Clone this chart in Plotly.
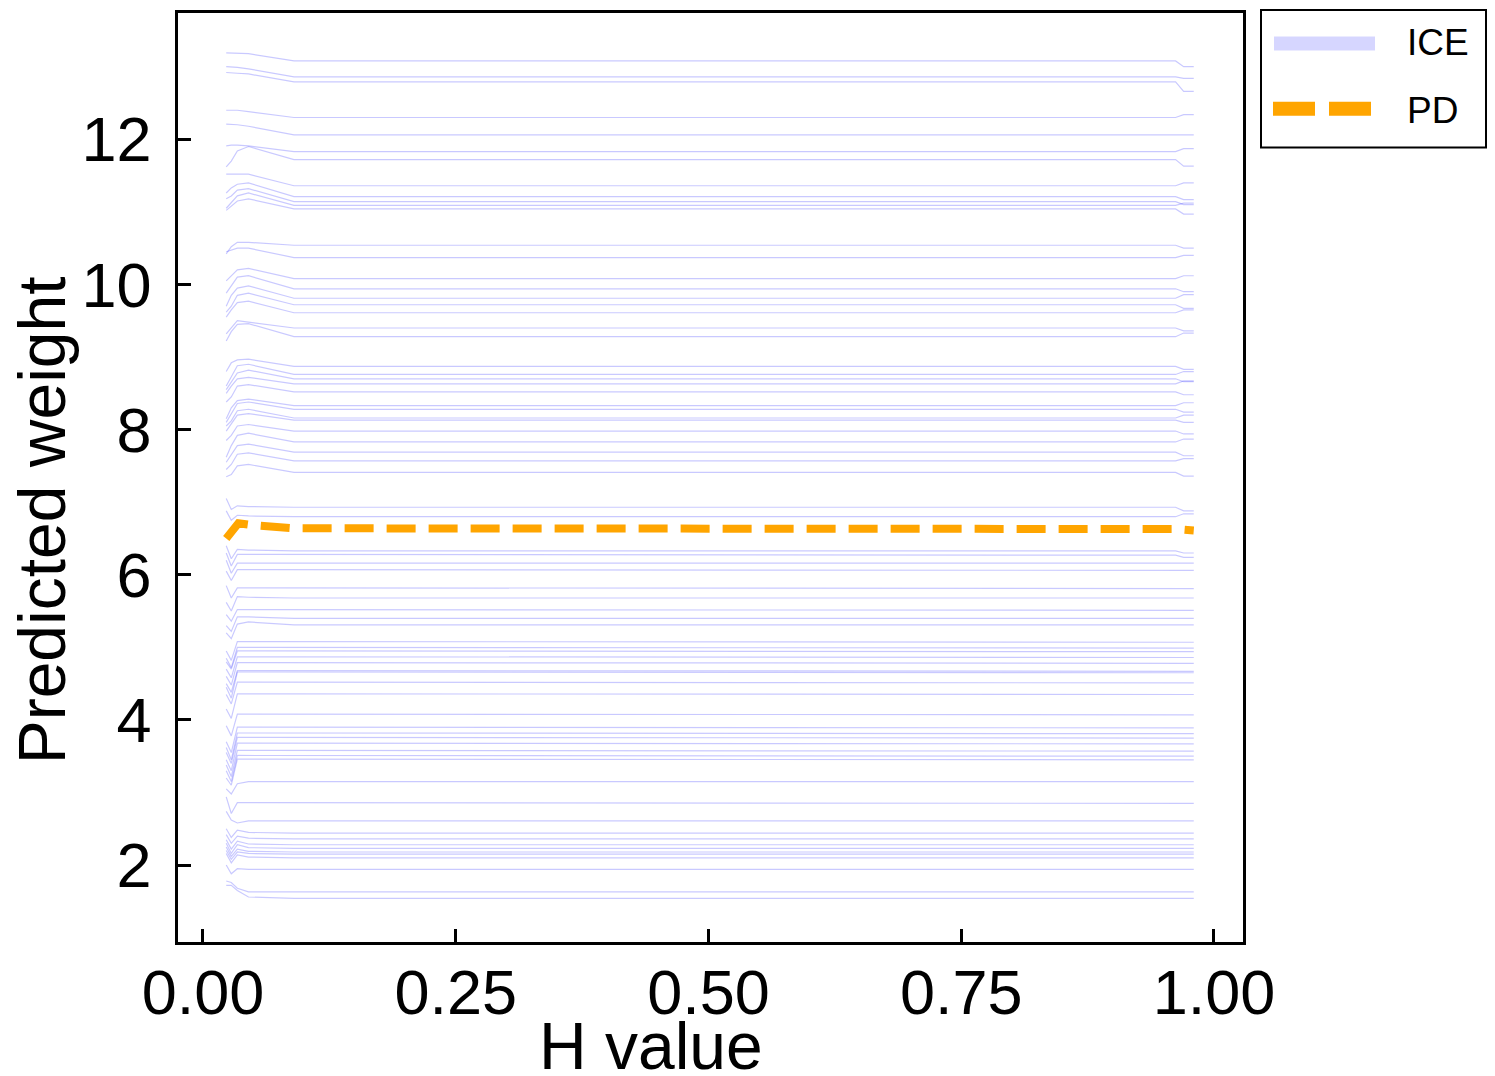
import plotly.graph_objects as go

# ---------------- data ----------------
x_ticks = [0.0, 0.25, 0.5, 0.75, 1.0]
x_tick_text = ["0.00", "0.25", "0.50", "0.75", "1.00"]
y_ticks = [2, 4, 6, 8, 10, 12]
y_tick_text = ["2", "4", "6", "8", "10", "12"]

# H-value grid points where each ICE curve is sampled
ice_x = [0.023, 0.028, 0.034, 0.045, 0.09, 0.962, 0.970, 0.980]

ice_start = [13.19, 13.00, 12.92, 12.40, 12.21, 11.91, 11.62,
             11.52, 11.26, 11.18, 11.05, 11.02,
             10.42, 10.45, 10.05, 9.88, 9.70, 9.62, 9.55, 9.32, 9.22,
             8.80, 8.60, 8.55, 8.50, 8.38, 8.15, 8.10, 8.05, 7.98, 7.85, 7.62, 7.55, 7.45, 7.35,
             7.05, 6.88, 6.40, 6.30, 6.20, 6.05, 5.85, 5.62, 5.45, 5.30, 5.20,
             4.95, 4.85, 4.80, 4.70, 4.60, 4.50, 4.45, 4.35, 4.15, 3.92, 3.70, 3.62, 3.55, 3.45, 3.38, 3.30, 3.20,
             3.05, 2.94, 2.74, 2.50, 2.42, 2.35, 2.30, 2.25, 2.20, 2.16, 2.00, 1.78, 1.72]
ice_dip = [13.19, 13.00, 12.92, 12.40, 12.21, 11.92, 11.70,
           11.52, 11.33, 11.22, 11.13, 11.08,
           10.52, 10.47, 10.12, 9.98, 9.85, 9.70, 9.65, 9.40, 9.35,
           8.92, 8.72, 8.66, 8.60, 8.45, 8.30, 8.22, 8.12, 8.08, 7.92, 7.78, 7.66, 7.52, 7.38,
           6.90, 6.75, 6.22, 6.12, 6.02, 5.92, 5.68, 5.50, 5.36, 5.22, 5.12,
           4.82, 4.72, 4.70, 4.58, 4.48, 4.38, 4.30, 4.22, 4.02, 3.78, 3.55, 3.45, 3.40, 3.30, 3.22, 3.15, 3.10,
           2.98, 2.71, 2.62, 2.38, 2.30, 2.22, 2.16, 2.12, 2.08, 2.03, 1.88, 1.76, 1.72]
ice_rise = [13.19, 12.99, 12.91, 12.40, 12.20, 11.92, 11.84,
            11.53, 11.38, 11.30, 11.22, 11.15,
            10.58, 10.50, 10.20, 10.10, 9.95, 9.85, 9.75, 9.50, 9.45,
            8.96, 8.88, 8.78, 8.70, 8.60, 8.40, 8.36, 8.26, 8.20, 8.05, 7.92, 7.78, 7.66, 7.50,
            6.95, 6.82, 6.35, 6.28, 6.16, 6.07, 5.82, 5.70, 5.52, 5.42, 5.32,
            5.08, 5.00, 4.95, 4.87, 4.79, 4.68, 4.66, 4.52, 4.36, 4.08, 3.90, 3.82, 3.76, 3.68, 3.58, 3.51, 3.46,
            3.12, 2.86, 2.58, 2.48, 2.40, 2.33, 2.28, 2.22, 2.18, 2.14, 1.95, 1.68, 1.65]
ice_peak = [13.18, 12.97, 12.90, 12.38, 12.18, 11.91, 11.90,
            11.52, 11.40, 11.32, 11.26, 11.18,
            10.58, 10.50, 10.22, 10.12, 9.98, 9.88, 9.77, 9.48, 9.46,
            8.97, 8.90, 8.82, 8.72, 8.62, 8.42, 8.38, 8.28, 8.22, 8.07, 7.95, 7.80, 7.68, 7.52,
            6.94, 6.81, 6.34, 6.28, 6.16, 6.07, 5.82, 5.69, 5.52, 5.42, 5.35,
            5.08, 5.00, 4.95, 4.87, 4.79, 4.68, 4.66, 4.52, 4.36, 4.08, 3.90, 3.82, 3.76, 3.68, 3.58, 3.51, 3.46,
            3.15, 2.86, 2.61, 2.45, 2.37, 2.29, 2.24, 2.19, 2.16, 2.11, 1.94, 1.63, 1.56]
ice_level = [13.08, 12.86, 12.79, 12.30, 12.06, 11.83, 11.72,
             11.36, 11.21, 11.14, 11.09, 11.04,
             10.54, 10.37, 10.08, 9.94, 9.81, 9.72, 9.61, 9.40, 9.28,
             8.87, 8.76, 8.70, 8.63, 8.52, 8.33, 8.28, 8.16, 8.13, 7.98, 7.83, 7.69, 7.57, 7.41,
             6.93, 6.80, 6.33, 6.27, 6.15, 6.06, 5.81, 5.68, 5.51, 5.40, 5.31,
             5.07, 4.99, 4.94, 4.86, 4.78, 4.67, 4.65, 4.51, 4.35, 4.07, 3.89, 3.81, 3.75, 3.67, 3.57, 3.50, 3.45,
             3.15, 2.85, 2.61, 2.44, 2.36, 2.28, 2.23, 2.18, 2.15, 2.10, 1.94, 1.63, 1.54]
ice_end = [13.00, 12.84, 12.66, 12.34, 12.06, 11.87, 11.63,
           11.40, 11.17, 11.10, 11.12, 10.97,
           10.50, 10.40, 10.12, 9.90, 9.86, 9.67, 9.65, 9.36, 9.33,
           8.83, 8.80, 8.66, 8.67, 8.48, 8.37, 8.24, 8.20, 8.10, 7.94, 7.87, 7.64, 7.60, 7.36,
           6.88, 6.84, 6.30, 6.24, 6.16, 6.06, 5.81, 5.68, 5.51, 5.40, 5.31,
           5.07, 4.99, 4.94, 4.86, 4.78, 4.67, 4.65, 4.51, 4.35, 4.07, 3.89, 3.81, 3.75, 3.67, 3.57, 3.50, 3.45,
           3.15, 2.85, 2.61, 2.44, 2.36, 2.28, 2.23, 2.18, 2.15, 2.10, 1.94, 1.63, 1.54]

pd_x = [0.023, 0.026, 0.030, 0.035, 0.045, 0.09, 0.962, 0.970, 0.980]
pd_y = [6.50, 6.55, 6.63, 6.71, 6.69, 6.64, 6.63, 6.61, 6.61]

legend_labels = ["ICE", "PD"]

# ---------------- figure ----------------
FONT = "Liberation Sans, Arial, Helvetica, sans-serif"
ICE_COLOR = "rgba(0,0,255,0.21)"
PD_COLOR = "#FFA500"

fig = go.Figure()
for s, d, r, p, lv, e in zip(ice_start, ice_dip, ice_rise, ice_peak, ice_level, ice_end):
    fig.add_trace(go.Scatter(
        x=ice_x, y=[s, d, r, p, lv, lv, e, e], mode="lines",
        line=dict(color=ICE_COLOR, width=1.2), showlegend=False, hoverinfo="skip"))

fig.add_trace(go.Scatter(
    x=pd_x, y=pd_y, mode="lines",
    line=dict(color=PD_COLOR, width=8, dash="29px,13px"), showlegend=False))

# page body adds an 8px offset; compensate so the picture lands on target pixels
OFF = 8
W, H = 1495 - OFF, 1076 - OFF
L, R, T, B = 178, 1243, 10, 942   # target plot-area pixels in the final picture


def px(xp):
    return (xp - L) / (R - L)


def py(yp):
    return (B - yp) / (B - T)


axis_common = dict(
    showline=True, linecolor="black", linewidth=2.5, mirror=True,
    ticks="inside", ticklen=13, tickwidth=2.5, tickcolor="black",
    showgrid=False, zeroline=False,
    tickfont=dict(family=FONT, size=63, color="black"),
)

fig.update_layout(
    width=W, height=H,
    margin=dict(l=L - OFF, r=1495 - R, t=T - OFF, b=1076 - B),
    paper_bgcolor="white", plot_bgcolor="white",
    showlegend=False,
    font=dict(family=FONT, color="black"),
    xaxis=dict(range=[-0.0247, 1.0287], tickvals=x_ticks, ticktext=x_tick_text,
               ticklabelstandoff=-6, **axis_common),
    yaxis=dict(range=[0.94, 13.74], tickvals=y_ticks, ticktext=y_tick_text,
               ticklabelstandoff=11, **axis_common),
)

# axis titles
fig.add_annotation(text="H value", xref="paper", yref="paper",
                   x=px(651), y=py(1046), xanchor="center", yanchor="middle",
                   showarrow=False, font=dict(family=FONT, size=66, color="black"))
fig.add_annotation(text="Predicted weight", xref="paper", yref="paper",
                   x=px(42), y=py(519), xanchor="center", yanchor="middle", textangle=-90,
                   showarrow=False, font=dict(family=FONT, size=66, color="black"))

# legend box (drawn manually)
fig.add_shape(type="rect", xref="paper", yref="paper",
              x0=px(1261), x1=px(1486), y0=py(145), y1=py(7),
              line=dict(color="black", width=2), fillcolor="white")
fig.add_shape(type="line", xref="paper", yref="paper",
              x0=px(1274), x1=px(1375), y0=py(40.5), y1=py(40.5),
              line=dict(color="rgba(0,0,255,0.16)", width=14))
fig.add_shape(type="line", xref="paper", yref="paper",
              x0=px(1273), x1=px(1372), y0=py(106), y1=py(106),
              line=dict(color=PD_COLOR, width=14, dash="42px,14px"))
for lbl, yy in zip(legend_labels, [40, 108]):
    fig.add_annotation(text=lbl, xref="paper", yref="paper",
                       x=px(1405), y=py(yy), xanchor="left", yanchor="middle",
                       showarrow=False, font=dict(family=FONT, size=37, color="black"))

fig.write_html("out.html")
